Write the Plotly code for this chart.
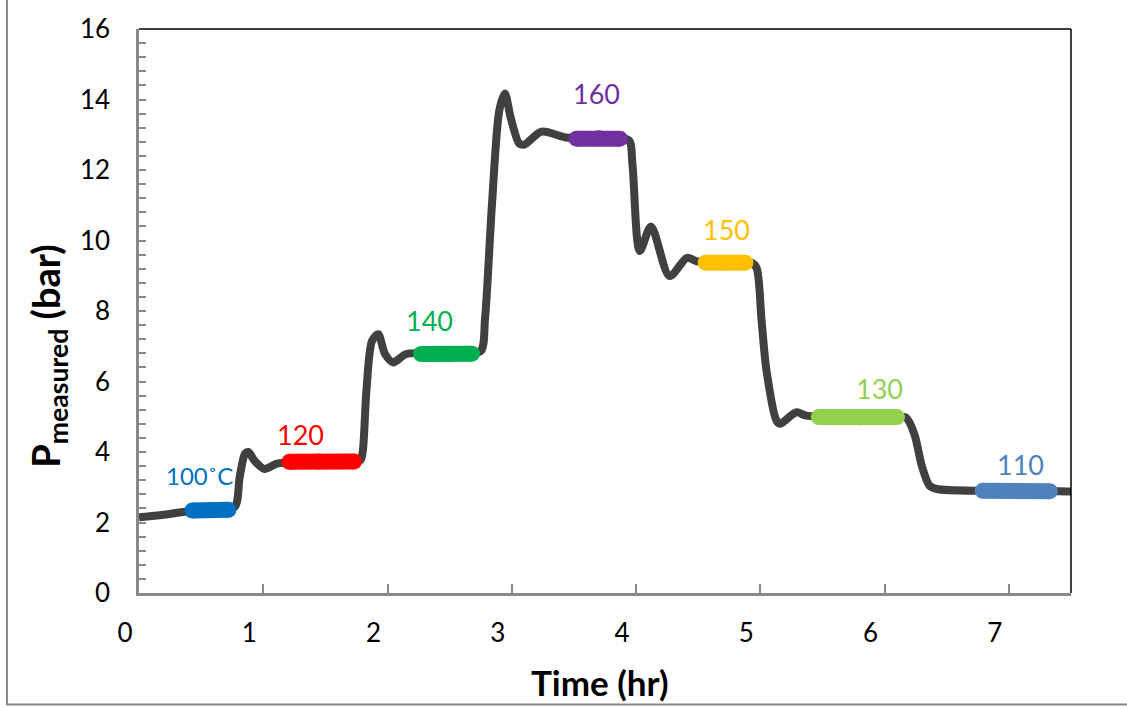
import plotly.graph_objects as go

# Measured pressure trace (time in hr, pressure in bar)
time_hr = [0.00, 0.20, 0.40, 0.60, 0.77, 0.81, 0.853, 0.88, 0.93, 1.01, 1.11, 1.30, 1.50, 1.78,
           1.80, 1.83, 1.875, 1.925, 1.98, 2.045, 2.15, 2.40, 2.60, 2.75, 2.785, 2.84, 2.90,
           2.945, 2.99, 3.06, 3.10, 3.24, 3.44, 3.70, 3.94, 3.97, 4.03, 4.12, 4.27, 4.41, 4.49,
           4.70, 4.93, 4.97, 5.01, 5.05, 5.13, 5.16, 5.29, 5.37, 5.70, 6.00, 6.17, 6.24,
           6.30, 6.36, 6.42, 6.80, 7.10, 7.40, 7.51]
pressure_bar = [2.15, 2.22, 2.32, 2.35, 2.44, 3.29, 3.95, 4.00, 3.75, 3.52, 3.67, 3.72, 3.73, 3.76,
                4.00, 5.74, 7.15, 7.34, 6.78, 6.54, 6.78, 6.79, 6.79, 6.86, 7.80, 11.00, 13.70,
                14.17, 13.50, 12.75, 12.72, 13.09, 12.92, 12.88, 12.85, 12.20, 9.70, 10.40, 8.99, 9.51, 9.41,
                9.37, 9.37, 9.22, 7.72, 6.30, 4.89, 4.80, 5.13, 5.03, 4.98, 4.98, 4.98, 4.50,
                3.60, 3.05, 2.95, 2.90, 2.89, 2.89, 2.88]

# Steady-state plateaus at each set-point temperature
plateau_labels = ["100˚C", "120", "140", "160", "150", "130", "110"]
plateau_colors = ["#0070C0", "#FF0000", "#00B050", "#7030A0", "#FFC000", "#92D050", "#4F81BD"]
plateau_t = [[0.43, 0.58, 0.72], [1.21, 1.45, 1.73], [2.27, 2.50, 2.68], [3.52, 3.70, 3.87],
             [4.56, 4.72, 4.88], [5.47, 5.80, 6.10], [6.79, 7.08, 7.33]]
plateau_p = [[2.34, 2.35, 2.36], [3.72, 3.73, 3.73], [6.78, 6.79, 6.79], [12.89, 12.90, 12.89],
             [9.37, 9.37, 9.37], [4.99, 4.98, 4.99], [2.90, 2.89, 2.89]]
label_t = [0.49, 1.30, 2.34, 3.68, 4.73, 5.96, 7.09]
label_p = [3.34, 4.50, 7.72, 14.16, 10.32, 5.80, 3.65]

fig = go.Figure()

fig.add_trace(go.Scatter(
    x=time_hr, y=pressure_bar, mode="lines",
    line=dict(color="#404040", width=8, shape="spline", smoothing=0.8),
    showlegend=False, hoverinfo="skip"))

for ts, ps, col in zip(plateau_t, plateau_p, plateau_colors):
    fig.add_trace(go.Scatter(
        x=ts, y=ps, mode="lines+markers",
        line=dict(color=col, width=16),
        marker=dict(color=col, size=16, line=dict(width=0)),
        showlegend=False, hoverinfo="skip"))

for txt, tx, py, col in zip(plateau_labels, label_t, label_p, plateau_colors):
    fig.add_annotation(x=tx, y=py, text=txt, showarrow=False,
                       font=dict(family="Lato", size=24 if "C" in txt else 27, color=col),
                       xanchor="center", yanchor="middle")

axis_grey = "#898989"

fig.update_xaxes(
    range=[0, 7.5], dtick=1, tick0=0,
    showline=True, linecolor=axis_grey, linewidth=2.5,
    ticks="inside", ticklen=9, tickwidth=1.5, tickcolor=axis_grey,
    showgrid=False, zeroline=False,
    tickfont=dict(family="Lato", size=26, color="#000000"),
    ticklabelshift=-14, ticklabelstandoff=15)

fig.update_yaxes(
    range=[0, 16], dtick=2, tick0=0,
    showline=True, linecolor=axis_grey, linewidth=2.5,
    ticks="inside", ticklen=7, tickwidth=1.5, tickcolor=axis_grey,
    minor=dict(dtick=0.4, ticks="inside", ticklen=7, tickwidth=1.5, tickcolor=axis_grey),
    showgrid=False, zeroline=False,
    tickfont=dict(family="Lato", size=26, color="#000000"),
    ticklabelstandoff=21)

# Axis titles
fig.add_annotation(x=0.495, y=-0.157, xref="paper", yref="paper", showarrow=False,
                   text="<b>Time (hr)</b>", font=dict(family="Lato", size=35, color="#000000"),
                   xanchor="center", yanchor="middle")
fig.add_annotation(x=-0.098, y=0.42, xref="paper", yref="paper", showarrow=False, textangle=-90,
                   text="<b>P<sub>measured</sub> (bar)</b>",
                   font=dict(family="Lato", size=38, color="#000000"),
                   xanchor="center", yanchor="middle")

# Plot-area frame (top/right) and chart-area border
fig.add_shape(type="line", xref="paper", yref="paper", x0=0, x1=1, y0=1, y1=1,
              line=dict(color="#000000", width=1.5))
fig.add_shape(type="line", xref="paper", yref="paper", x0=1, x1=1, y0=0, y1=1,
              line=dict(color="#000000", width=1.5))
fig.add_shape(type="rect", xref="paper", yref="paper",
              x0=(7 - 139) / 932, x1=1.08, y0=(593 - 705) / 566, y1=1.1,
              line=dict(color=axis_grey, width=2))

fig.update_layout(
    width=1127, height=708,
    margin=dict(l=139, r=56, t=27, b=115),
    paper_bgcolor="#FFFFFF", plot_bgcolor="#FFFFFF",
    showlegend=False)

fig.write_html("out.html")
